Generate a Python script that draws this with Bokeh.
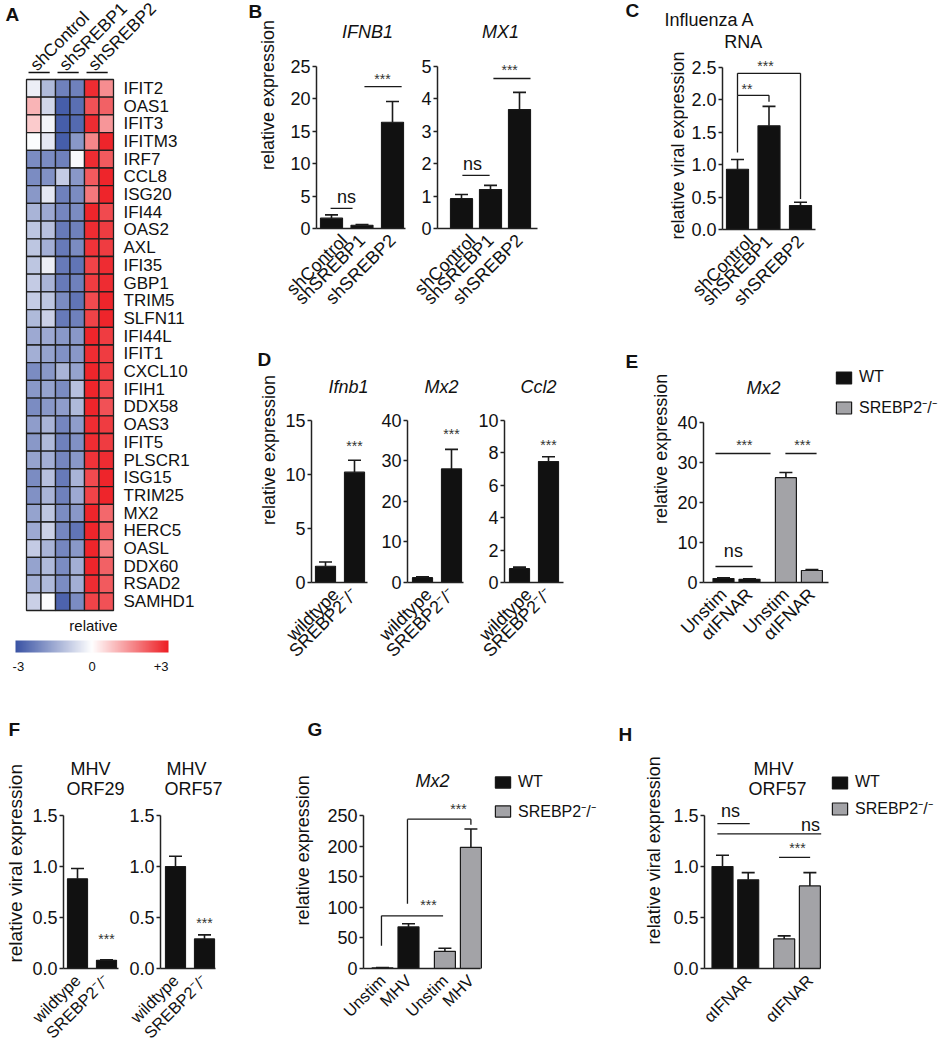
import math
import numpy as np
from bokeh.plotting import figure
from bokeh.layouts import row, column
from bokeh.models import (Range1d, FixedTicker, Legend, LegendItem,
                          LinearColorMapper, NumeralTickFormatter, ColumnDataSource)
from bokeh.core.properties import value
from bokeh.embed import file_html
from bokeh.resources import INLINE

FONT = "Liberation Sans"
INK = "#111111"
GRAY = "#a3a3a7"
KO = "SREBP2\u207b/\u207b"

# ---------------- data : panel A heatmap ----------------
genes = ["IFIT2", "OAS1", "IFIT3", "IFITM3", "IRF7", "CCL8", "ISG20", "IFI44", "OAS2", "AXL",
         "IFI35", "GBP1", "TRIM5", "SLFN11", "IFI44L", "IFIT1", "CXCL10", "IFIH1", "DDX58", "OAS3",
         "IFIT5", "PLSCR1", "ISG15", "TRIM25", "MX2", "HERC5", "OASL", "DDX60", "RSAD2", "SAMHD1"]
heat_groups = ["shControl", "shSREBP1", "shSREBP2"]
hm_shControl_1 = [-0.3, 1.0, 0.7, -0.05, -2.0, -2.0, -1.8, -1.3, -1.0, -1.0, -1.0, -0.9, -0.9, -1.2, -1.5,
                  -1.4, -2.0, -1.8, -2.0, -1.7, -1.8, -1.6, -2.0, -1.9, -1.6, -1.5, -0.9, -1.6, -1.4, -0.8]
hm_shControl_2 = [-1.2, -0.7, -0.2, -0.4, -2.0, -1.9, -0.4, -1.5, -1.1, -1.4, -0.3, -1.3, -1.0, -0.8, -1.5,
                  -1.6, -1.8, -1.6, -1.8, -1.3, -1.2, -1.4, -1.1, -1.3, -1.0, -0.8, -1.3, -1.2, -1.2, -0.05]
hm_shSREBP1_1 = [-2.2, -2.8, -2.8, -2.8, -2.2, -0.9, -2.2, -2.1, -2.3, -2.3, -2.3, -2.3, -2.0, -2.3, -1.8,
                 -1.9, -1.3, -2.0, -1.7, -2.1, -2.2, -2.1, -2.3, -2.2, -2.0, -2.1, -2.1, -2.0, -2.0, -2.7]
hm_shSREBP1_2 = [-2.2, -2.5, -2.6, -1.8, -0.1, -1.8, -2.0, -2.0, -2.2, -2.0, -2.4, -2.2, -2.4, -2.2, -1.8,
                 -1.8, -1.6, -1.1, -1.2, -1.7, -1.9, -1.8, -1.3, -1.5, -1.8, -2.4, -1.8, -1.4, -1.4, -2.0]
hm_shSREBP2_1 = [2.8, 2.3, 2.8, 1.6, 2.8, 2.2, 1.8, 2.9, 2.8, 2.7, 2.5, 2.6, 2.4, 2.5, 2.9,
                 2.8, 2.9, 2.9, 2.9, 2.8, 2.8, 2.7, 2.4, 2.5, 2.9, 2.9, 2.9, 2.9, 2.8, 2.5]
hm_shSREBP2_2 = [1.5, 2.1, 1.4, 2.9, 2.2, 2.9, 2.9, 2.4, 2.6, 2.6, 2.8, 2.8, 2.9, 2.9, 2.6,
                 2.6, 2.6, 2.4, 2.3, 2.6, 2.6, 2.8, 2.9, 2.9, 2.0, 2.1, 1.7, 2.1, 2.2, 2.3]
hm_ticks = [-3, 0, 3]
hm_tick_labels = ["-3", "0", "+3"]

# ---------------- data : bar panels ----------------
b_categories = ["shControl", "shSREBP1", "shSREBP2"]
b_ifnb1_mean = [1.6, 0.5, 16.4]
b_ifnb1_err = [2.1, 0.62, 19.6]
b_mx1_mean = [0.92, 1.2, 3.67]
b_mx1_err = [1.05, 1.33, 4.2]
c_flu_mean = [0.93, 1.6, 0.37]
c_flu_err = [1.08, 1.9, 0.42]

d_categories = ["wildtype", KO]
d_ifnb1_mean = [1.5, 10.2]
d_ifnb1_err = [1.9, 11.3]
d_mx2_mean = [1.2, 28.0]
d_mx2_err = [1.4, 32.8]
d_ccl2_mean = [0.85, 7.45]
d_ccl2_err = [0.95, 7.75]

geno = ["WT", "WT", KO, KO]
e_treatment = ["Unstim", "\u03b1IFNAR", "Unstim", "\u03b1IFNAR"]
e_mx2_mean = [1.0, 0.8, 26.2, 3.0]
e_mx2_err = [1.15, 0.9, 27.5, 3.25]

f_categories = ["wildtype", KO]
f_orf29_mean = [0.88, 0.08]
f_orf29_err = [0.98, 0.086]
f_orf57_mean = [1.0, 0.29]
f_orf57_err = [1.1, 0.33]

g_treatment = ["Unstim", "MHV", "Unstim", "MHV"]
g_mx2_mean = [1.0, 68.0, 28.0, 198.0]
g_mx2_err = [1.6, 73.0, 33.0, 228.0]

h_treatment = ["", "\u03b1IFNAR", "", "\u03b1IFNAR"]
h_orf57_mean = [1.0, 0.87, 0.29, 0.81]
h_orf57_err = [1.11, 0.94, 0.32, 0.94]

# significance marks: lines (x0, x1, y), legs (x, y_top, y_bottom), texts (x, y, label)
b_ifnb1_sig_lines = [(-0.03, 0.69, 3.1), (1.08, 2.30, 21.9)]
b_ifnb1_sig_text = [(0.49, 4.8, "ns"), (1.67, 23.0, "***")]
b_mx1_sig_lines = [(0.03, 0.97, 1.64), (1.10, 2.38, 4.63)]
b_mx1_sig_text = [(0.38, 2.0, "ns"), (1.66, 4.9, "***")]
c_sig_lines = [(0.0, 1.0, 2.07), (0.0, 2.0, 2.41)]
c_sig_legs = [(0.0, 2.07, 1.19), (1.0, 2.07, 1.97), (0.0, 2.41, 2.07), (2.0, 2.41, 0.47)]
c_sig_text = [(0.3, 2.17, "**"), (0.89, 2.53, "***")]
d_ifnb1_sig_text = [(1.0, 12.6, "***")]
d_mx2_sig_text = [(1.0, 36.6, "***")]
d_ccl2_sig_text = [(1.0, 8.5, "***")]
e_sig_lines = [(-0.31, 1.12, 4.0), (-0.31, 1.81, 32.25), (2.38, 3.58, 32.25)]
e_sig_text = [(0.38, 8.0, "ns"), (0.8, 34.5, "***"), (3.04, 34.5, "***")]
f_orf29_sig_text = [(1.0, 0.29, "***")]
f_orf57_sig_text = [(1.0, 0.45, "***")]
g_sig_lines = [(-0.04, 2.33, 86.0), (0.96, 3.4, 244.0)]
g_sig_legs = [(-0.04, 86.0, 37.0), (0.96, 244.0, 106.0), (3.4, 244.0, 235.0)]
g_sig_text = [(1.77, 104.0, "***"), (2.92, 260.0, "***")]
h_sig_lines = [(-0.2, 1.06, 1.42), (-0.2, 3.84, 1.32), (2.2, 3.41, 1.09)]
h_sig_text = [(0.31, 1.54, "ns"), (3.42, 1.41, "ns"), (2.92, 1.18, "***")]

GROUP_GAP = 0.4


def grouped_positions(groups):
    pos, g_idx, prev = [], 0, None
    for i, g in enumerate(groups):
        if prev is not None and g != prev:
            g_idx += 1
        pos.append(i + GROUP_GAP * g_idx)
        prev = g
    return pos


# ---------------- styling helpers ----------------
def palette_bwr(n=256):
    blue = np.array([58, 83, 164.0])
    white = np.array([255, 255, 255.0])
    red = np.array([237, 30, 36.0])
    out = []
    for t in np.linspace(0, 1, n):
        if t < 0.5:
            c = blue + (white - blue) * (t / 0.5)
        else:
            c = white + (red - white) * ((t - 0.5) / 0.5)
        out.append("#%02x%02x%02x" % tuple(int(round(v)) for v in c))
    return out


def put_text(p, x, y, s, size, align="center", baseline="middle", style="normal", angle=0.0, color=INK):
    p.text(x=[x], y=[y], text=[s], text_font=value(FONT), text_font_size=size,
           text_align=align, text_baseline=baseline, text_font_style=style,
           angle=angle, text_color=color)


def bare(p):
    p.grid.visible = False
    p.outline_line_color = None
    p.background_fill_color = "white"
    p.border_fill_color = "white"


def text_fig(left, right, top, bottom):
    """A plain text area whose data units are page pixels (y grows downward)."""
    p = figure(width=right - left, height=bottom - top, x_range=Range1d(left, right),
               y_range=Range1d(bottom, top), min_border=0, toolbar_location=None,
               output_backend="svg", title_location=None, x_axis_location=None, y_axis_location=None)
    bare(p)
    return p


def letter(p, x, y, s, fx=lambda v: v, fy=lambda v: v):
    put_text(p, fx(x), fy(y), s, "19px", align="left", baseline="top", style="bold")


def ylabel(p, x, y, s, size="18px"):
    put_text(p, x, y, s, size, angle=math.pi / 2)


class BarPanel:
    def __init__(self, left, right, top, bottom, axis_x, y0, ytop_px, ytop_val, x0, dx, axis_end):
        self.x0, self.dx, self.y0 = x0, dx, y0
        self.axis_x = axis_x
        self.ppu = (y0 - ytop_px) / ytop_val
        self.xstart = (axis_x - x0) / dx
        self.xaxis_end = (axis_end - x0) / dx
        self.p = figure(width=right - left, height=bottom - top,
                        x_range=Range1d(self.xstart, (right - x0) / dx),
                        y_range=Range1d(0, (y0 - top) / self.ppu),
                        min_border_left=axis_x - left, min_border_right=0, min_border_top=0,
                        min_border_bottom=bottom - y0, toolbar_location=None,
                        output_backend="svg", title_location=None)
        bare(self.p)

    def fx(self, px):
        return (px - self.x0) / self.dx

    def fy(self, py):
        return (self.y0 - py) / self.ppu

    def axes(self, yticks, xticks, xlabels, fmt=None, tick_size="18px", xtick_size="18px"):
        p = self.p
        ya = p.yaxis[0]
        ya.ticker = FixedTicker(ticks=yticks)
        ya.bounds = (0, yticks[-1])
        ya.axis_line_width = 1.5
        ya.axis_line_color = "#222222"
        ya.major_tick_line_color = "#222222"
        ya.major_tick_line_width = 1.5
        ya.major_tick_out = 4
        ya.major_tick_in = 0
        ya.minor_tick_line_color = None
        ya.major_label_text_font = FONT
        ya.major_label_text_font_size = tick_size
        ya.major_label_text_color = INK
        ya.major_label_standoff = 2
        if fmt:
            ya.formatter = NumeralTickFormatter(format=fmt)
        xa = p.xaxis[0]
        xa.ticker = FixedTicker(ticks=list(xticks))
        xa.major_label_overrides = {float(x): lab for x, lab in zip(xticks, xlabels)}
        xa.major_label_orientation = math.pi / 4
        xa.bounds = (self.xstart, self.xaxis_end)
        xa.axis_line_width = 1.5
        xa.axis_line_color = "#222222"
        xa.major_tick_line_color = None
        xa.minor_tick_line_color = None
        xa.major_label_text_font = FONT
        xa.major_label_text_font_size = xtick_size
        xa.major_label_text_color = INK
        xa.major_label_standoff = 3

    def bars(self, xs, means, errs, color, width_px):
        p = self.p
        w = width_px / self.dx
        r = p.vbar(x=xs, top=means, width=w, fill_color=color, line_color="#1a1a1a", line_width=1.2)
        p.segment(x0=xs, y0=means, x1=xs, y1=errs, line_color="#1a1a1a", line_width=1.6)
        cap = 6.5 / self.dx
        p.segment(x0=[x - cap for x in xs], y0=errs, x1=[x + cap for x in xs], y1=errs,
                  line_color="#1a1a1a", line_width=1.6)
        return r

    def sig(self, lines=(), legs=(), texts=()):
        p = self.p
        if lines:
            p.segment(x0=[l[0] for l in lines], x1=[l[1] for l in lines],
                      y0=[l[2] for l in lines], y1=[l[2] for l in lines],
                      line_color="#1a1a1a", line_width=1.3)
        if legs:
            p.segment(x0=[l[0] for l in legs], x1=[l[0] for l in legs],
                      y0=[l[1] for l in legs], y1=[l[2] for l in legs],
                      line_color="#1a1a1a", line_width=1.3)
        for x, y, s in texts:
            if s == "ns":
                put_text(p, x, y, s, "18px")
            else:
                put_text(p, x, y, s, "14px", color="#333333")

    def title(self, px, py, s, italic=False, size="18px"):
        put_text(self.p, self.fx(px), self.fy(py), s, size, style="italic" if italic else "normal")

    def letter(self, px, py, s):
        letter(self.p, px, py, s, self.fx, self.fy)

    def legend(self, r_wt, r_ko, left_px, top_px, gh, sp):
        n_h = gh * 2 + sp
        loc = (left_px - self.axis_x, self.y0 - (top_px + n_h))
        lg = Legend(items=[LegendItem(label="WT", renderers=[r_wt]), LegendItem(label=KO, renderers=[r_ko])],
                    location=loc, orientation="vertical", glyph_width=19, glyph_height=gh,
                    label_height=gh, spacing=sp, padding=0, margin=0, border_line_color=None,
                    background_fill_alpha=0, label_text_font=FONT, label_text_font_size="16px",
                    label_standoff=6, label_text_color=INK)
        self.p.add_layout(lg)


# ================= Panel A : heatmap =================
HM_LEFT, HM_TOP, CW, RH = 26.0, 79.0, 14.5, 17.7
A_L, A_T, A_W, A_H = 0, 0, 230, 705
CB_LEFT, CB_RIGHT = 15, 168


def ax_(px):
    return (px - HM_LEFT) / CW - 0.5


def ay_(py):
    return (py - HM_TOP) / RH - 0.5


pa = figure(width=A_W, height=A_H, x_range=Range1d(ax_(A_L), ax_(A_L + A_W)),
            y_range=Range1d(ay_(A_T + A_H), ay_(A_T)), min_border=0, toolbar_location=None,
            output_backend="svg", title_location=None, x_axis_location=None, y_axis_location=None)
bare(pa)

mapper = LinearColorMapper(palette=palette_bwr(), low=hm_ticks[0], high=hm_ticks[-1])
hm_columns = [hm_shControl_1, hm_shControl_2, hm_shSREBP1_1, hm_shSREBP1_2, hm_shSREBP2_1, hm_shSREBP2_2]
cx, cy, cv = [], [], []
for ci, colvals in enumerate(hm_columns):
    for ri, v in enumerate(colvals):
        cx.append(ci)
        cy.append(ri)
        cv.append(v)
pa.rect(x="x", y="y", width=1, height=1, source=ColumnDataSource(dict(x=cx, y=cy, v=cv)),
        fill_color={"field": "v", "transform": mapper}, line_color="#1f1f1f", line_width=1.3)
pa.text(x=[ax_(123)] * len(genes), y=list(range(len(genes))), text=genes, text_font=value(FONT),
        text_font_size="17px", text_align="left", text_baseline="middle", text_color=INK)
for g, name in enumerate(heat_groups):
    put_text(pa, 2 * g - 0.05, ay_(67), name, "17.5px", align="left", baseline="alphabetic",
             angle=math.pi / 4)
pa.segment(x0=[2 * g - 0.36 for g in range(3)], x1=[2 * g + 1.1 for g in range(3)],
           y0=[ay_(72)] * 3, y1=[ay_(72)] * 3, line_color=INK, line_width=1.3)
put_text(pa, ax_(93), ay_(625), "relative", "15px")
grad = np.linspace(hm_ticks[0], hm_ticks[-1], 256).reshape(1, -1)
pa.image(image=[grad], x=ax_((CB_LEFT + CB_RIGHT) / 2), y=ay_(646), dw=(CB_RIGHT - CB_LEFT) / CW,
         dh=12 / RH, anchor="center", color_mapper=mapper)
for t, s in zip(hm_ticks, hm_tick_labels):
    frac = (t - hm_ticks[0]) / (hm_ticks[-1] - hm_ticks[0])
    align = "left" if frac == 0 else ("right" if frac == 1 else "center")
    put_text(pa, ax_(CB_LEFT + frac * (CB_RIGHT - CB_LEFT)) + (-0.2 if frac == 0 else 0),
             ay_(666), s, "13px", align=align)
letter(pa, 5, 3, "A", ax_, ay_)

# ================= Row 1 : panels B and C =================
gutB = text_fig(230, 282, 0, 345)
letter(gutB, 248, 1, "B")
ylabel(gutB, 267, 143, "relative expression")

xb = list(range(len(b_categories)))
B1 = BarPanel(282, 410, 0, 345, 316, 228, 66, 25, 331, 30.5, 405)
B1.bars(xb, b_ifnb1_mean, b_ifnb1_err, INK, 22)
B1.axes([0, 5, 10, 15, 20, 25], xb, b_categories)
B1.sig(lines=b_ifnb1_sig_lines, texts=b_ifnb1_sig_text)
B1.title(367, 31, "IFNB1", italic=True)

B2 = BarPanel(410, 650, 0, 345, 437, 228, 66, 5, 461, 29, 537)
B2.bars(xb, b_mx1_mean, b_mx1_err, INK, 22)
B2.axes([0, 1, 2, 3, 4, 5], xb, b_categories)
B2.sig(lines=b_mx1_sig_lines, texts=b_mx1_sig_text)
B2.title(500, 31, "MX1", italic=True)
B2.letter(625, -1, "C")

C_strip_top = text_fig(650, 941, 0, 30)
put_text(C_strip_top, 709, 19, "Influenza A", "18px")
C_strip_sub = text_fig(688, 941, 30, 52)
put_text(C_strip_sub, 712, 41, "RNA", "18px")
gutC = text_fig(650, 688, 30, 345)
ylabel(gutC, 677, 145, "relative viral expression")
C = BarPanel(688, 941, 52, 345, 722, 229, 67, 2.5, 737, 31.5, 815)
C.bars(xb, c_flu_mean, c_flu_err, INK, 22)
C.axes([0, 0.5, 1.0, 1.5, 2.0, 2.5], xb, b_categories, fmt="0.0")
C.sig(lines=c_sig_lines, legs=c_sig_legs, texts=c_sig_text)
C_cell = column(C_strip_top, row(gutC, column(C_strip_sub, C.p, spacing=0), spacing=0), spacing=0)

# ================= Row 2 : panels D and E =================
gutD = text_fig(230, 282, 345, 705)
letter(gutD, 257, 351, "D")
ylabel(gutD, 268, 500, "relative  expression")

xd = list(range(len(d_categories)))
D1 = BarPanel(282, 375, 345, 705, 311, 583, 420, 15, 325, 29, 367)
D1.bars(xd, d_ifnb1_mean, d_ifnb1_err, INK, 20)
D1.axes([0, 5, 10, 15], xd, d_categories)
D1.sig(texts=d_ifnb1_sig_text)
D1.title(348, 387, "Ifnb1", italic=True)

D2 = BarPanel(375, 475, 345, 705, 407, 583, 420, 40, 422, 29, 463)
D2.bars(xd, d_mx2_mean, d_mx2_err, INK, 20)
D2.axes([0, 10, 20, 30, 40], xd, d_categories)
D2.sig(texts=d_mx2_sig_text)
D2.title(441, 387, "Mx2", italic=True)

D3 = BarPanel(475, 645, 345, 705, 504, 583, 420, 10, 519, 29, 563)
D3.bars(xd, d_ccl2_mean, d_ccl2_err, INK, 20)
D3.axes([0, 2, 4, 6, 8, 10], xd, d_categories)
D3.sig(texts=d_ccl2_sig_text)
D3.title(538, 387, "Ccl2", italic=True)
D3.letter(625, 351, "E")

gutE = text_fig(645, 672, 345, 705)
ylabel(gutE, 660, 502, "relative expression")

xe = grouped_positions(geno)
E = BarPanel(672, 941, 345, 705, 703, 582, 422, 40, 723, 26, 828)
e_wt = [i for i, g in enumerate(geno) if g == "WT"]
e_ko = [i for i, g in enumerate(geno) if g != "WT"]
r1 = E.bars([xe[i] for i in e_wt], [e_mx2_mean[i] for i in e_wt], [e_mx2_err[i] for i in e_wt], INK, 21)
r2 = E.bars([xe[i] for i in e_ko], [e_mx2_mean[i] for i in e_ko], [e_mx2_err[i] for i in e_ko], GRAY, 21)
E.axes([0, 10, 20, 30, 40], xe, e_treatment)
E.sig(lines=e_sig_lines, texts=e_sig_text)
E.title(763, 387, "Mx2", italic=True)
E.legend(r1, r2, 834, 378, 15, 10)

# ================= Row 3 : panels F, G, H =================
Y0_R3, TOP_R3 = 968, 815
gutF = text_fig(0, 28, 705, 1050)
letter(gutF, 8, 723, "F")
ylabel(gutF, 15, 912, "relative viral expression", size="19px")

xf = list(range(len(f_categories)))
F1 = BarPanel(28, 125, 705, 1050, 63, Y0_R3, TOP_R3, 1.5, 77, 29, 118)
F1.bars(xf, f_orf29_mean, f_orf29_err, INK, 20)
F1.axes([0, 0.5, 1.0, 1.5], xf, f_categories, fmt="0.0", xtick_size="16.5px")
F1.sig(texts=f_orf29_sig_text)
F1.title(90, 768, "MHV")
F1.title(95, 788, "ORF29")

F2 = BarPanel(125, 290, 705, 1050, 160, Y0_R3, TOP_R3, 1.5, 175, 29, 215)
F2.bars(xf, f_orf57_mean, f_orf57_err, INK, 20)
F2.axes([0, 0.5, 1.0, 1.5], xf, f_categories, fmt="0.0", xtick_size="16.5px")
F2.sig(texts=f_orf57_sig_text)
F2.title(186, 768, "MHV")
F2.title(193, 788, "ORF57")

gutG = text_fig(290, 324, 705, 1050)
letter(gutG, 307, 723, "G")
ylabel(gutG, 302, 895, "relative expression")

xg = grouped_positions(geno)
G = BarPanel(324, 640, 705, 1050, 363, Y0_R3, TOP_R3, 250, 382, 26, 480)
g_wt = [i for i, g in enumerate(geno) if g == "WT"]
g_ko = [i for i, g in enumerate(geno) if g != "WT"]
rg1 = G.bars([xg[i] for i in g_wt], [g_mx2_mean[i] for i in g_wt], [g_mx2_err[i] for i in g_wt], INK, 21)
rg2 = G.bars([xg[i] for i in g_ko], [g_mx2_mean[i] for i in g_ko], [g_mx2_err[i] for i in g_ko], GRAY, 21)
G.axes([0, 50, 100, 150, 200, 250], xg, g_treatment, xtick_size="16.5px")
G.sig(lines=g_sig_lines, legs=g_sig_legs, texts=g_sig_text)
G.title(432, 780, "Mx2", italic=True)
G.letter(618, 723, "H")
G.legend(rg1, rg2, 493, 785, 14, 9)

gutH = text_fig(640, 666, 705, 1050)
ylabel(gutH, 653, 895, "relative viral expression")

xh = grouped_positions(geno)
H = BarPanel(666, 941, 705, 1050, 704, Y0_R3, TOP_R3, 1.5, 722, 25.7, 820)
h_wt = [i for i, g in enumerate(geno) if g == "WT"]
h_ko = [i for i, g in enumerate(geno) if g != "WT"]
rh1 = H.bars([xh[i] for i in h_wt], [h_orf57_mean[i] for i in h_wt], [h_orf57_err[i] for i in h_wt], INK, 21)
rh2 = H.bars([xh[i] for i in h_ko], [h_orf57_mean[i] for i in h_ko], [h_orf57_err[i] for i in h_ko], GRAY, 21)
H.axes([0, 0.5, 1.0, 1.5], xh, h_treatment, fmt="0.0", xtick_size="16.5px")
H.sig(lines=h_sig_lines, texts=h_sig_text)
H.title(773, 768, "MHV")
H.title(777, 788, "ORF57")
H.legend(rh1, rh2, 830, 783, 15, 6)

row1 = row(gutB, B1.p, B2.p, C_cell, spacing=0)
row2 = row(gutD, D1.p, D2.p, D3.p, gutE, E.p, spacing=0)
top = row(pa, column(row1, row2, spacing=0), spacing=0)
row3 = row(gutF, F1.p, F2.p, gutG, G.p, gutH, H.p, spacing=0)
layout = column(top, row3, spacing=0)

open("out.html", "w").write(file_html(layout, INLINE, "SREBP2 figure"))
